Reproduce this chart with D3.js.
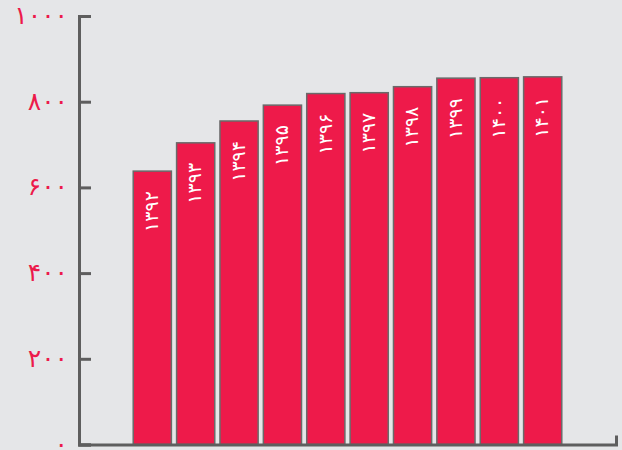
<!DOCTYPE html>
<html>
<head>
<meta charset="utf-8">
<script src="https://cdn.jsdelivr.net/npm/d3@7"></script>
<style>
  html, body { margin: 0; padding: 0; background: #e5e6e8; }
  svg { display: block; }
  .bar-label { font-family: "DejaVu Sans", sans-serif; font-size: 19px; fill: #fff; }
  .tick text { font-family: "DejaVu Sans", sans-serif; font-size: 25px; fill: #ec1a4b; letter-spacing: 3px; }
</style>
</head>
<body>
<svg id="chart" width="622" height="450"></svg>
<script>
// years (persian calendar) and the values
const years = ["۱۳۹۲", "۱۳۹۳", "۱۳۹۴", "۱۳۹۵", "۱۳۹۶", "۱۳۹۷", "۱۳۹۸", "۱۳۹۹", "۱۴۰۰", "۱۴۰۱"]
const values = [638, 704, 755, 792, 819, 821, 835, 855, 856, 858]
const yTicks = [0, 200, 400, 600, 800, 1000]

const persianDigits = "۰۱۲۳۴۵۶۷۸۹"
const toPersian = n => String(n).replace(/\d/g, d => persianDigits[+d])

const data = years.map((y, i) => ({ key: y, value: values[i] }))

const svg = d3.select("#chart")

const x = d3.scaleBand()
  .domain(years)
  .range([79, 616])
  .paddingInner(0.12)
  .paddingOuter(1.25)

const y = d3.scaleLinear()
  .domain([0, 1000])
  .range([444.5, 16])

// bars
svg.selectAll(".bar")
  .data(data)
  .enter()
  .append("rect")
  .attr("class", "bar")
  .attr("x", d => x(d.key))
  .attr("y", d => y(d.value))
  .attr("width", x.bandwidth())
  .attr("height", d => y(0) - y(d.value))
  .attr("fill", "#ee1a4a")
  .attr("stroke", "#6a6a6a")
  .attr("stroke-width", 1.5)

// rotated year labels inside the bars
svg.selectAll(".bar-label")
  .data(data)
  .enter()
  .append("text")
  .attr("class", "bar-label")
  .attr("transform", d => "translate(" + (x(d.key) + x.bandwidth() / 2) + "," + (y(d.value) + 20) + ") rotate(-90)")
  .attr("text-anchor", "end")
  .attr("dy", "0.3em")
  .text(d => d.key)

// x axis: just a line with small end marks
const xAxis = svg.append("g")
  .attr("transform", "translate(0," + y(0) + ")")
  .call(d3.axisTop(x).tickValues([]).tickSizeOuter(9))
xAxis.select(".domain").attr("stroke", "#5e5e5e").attr("stroke-width", 3)

// y axis with ticks pointing right
const yAxis = svg.append("g")
  .attr("transform", "translate(79,0)")
  .call(d3.axisRight(y).tickValues(yTicks).tickSize(12).tickSizeOuter(12).tickFormat(toPersian))
yAxis.select(".domain").attr("stroke", "#5e5e5e").attr("stroke-width", 3)
yAxis.selectAll(".tick line").attr("stroke", "#5e5e5e").attr("stroke-width", 3)
yAxis.selectAll(".tick text")
  .attr("x", -11)
  .attr("dy", "0.3em")
  .attr("text-anchor", "end")
</script>
</body>
</html>
